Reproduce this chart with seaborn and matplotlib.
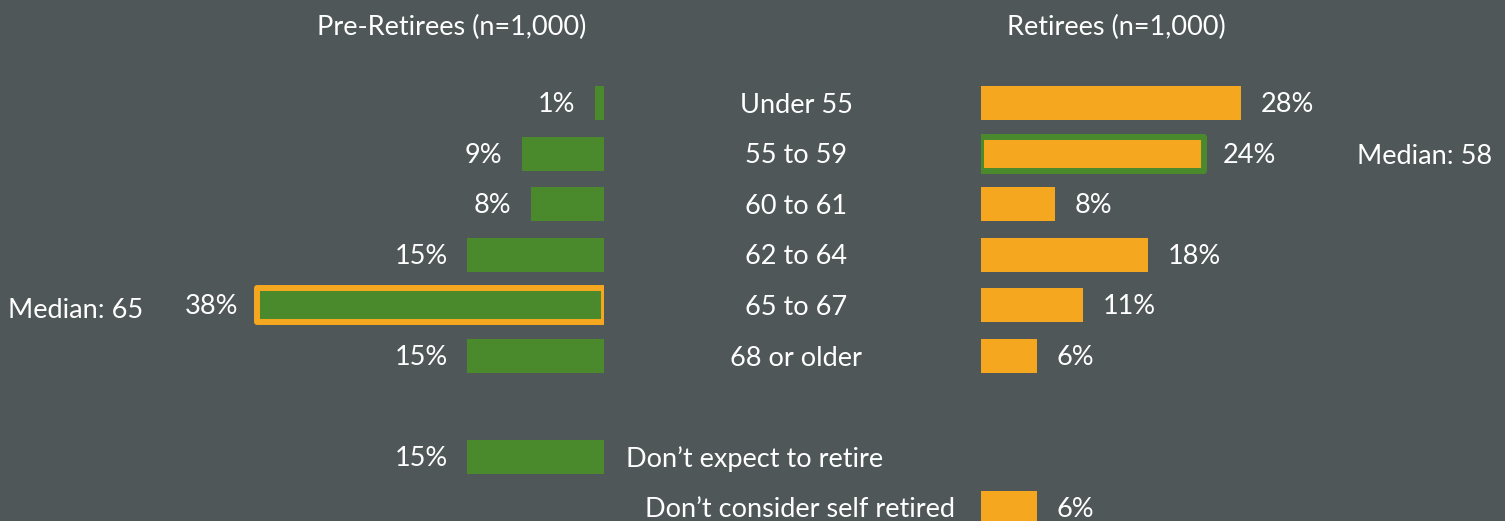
import pandas as pd
import matplotlib.pyplot as plt
import matplotlib.transforms as mtransforms
import seaborn as sns

# rows, top to bottom; the blank slot is the gap before the non-age answers
rows = ['Under 55', '55 to 59', '60 to 61', '62 to 64', '65 to 67', '68 or older',
        '', 'Don\u2019t expect to retire', 'Don\u2019t consider self retired']

pre_cats = ['Under 55', '55 to 59', '60 to 61', '62 to 64', '65 to 67', '68 or older',
            'Don\u2019t expect to retire']
pre_vals = [1, 9, 8, 15, 38, 15, 15]

ret_cats = ['Under 55', '55 to 59', '60 to 61', '62 to 64', '65 to 67', '68 or older',
            'Don\u2019t consider self retired']
ret_vals = [28, 24, 8, 18, 11, 6, 6]

pre_median = ('Median: 65', '65 to 67')
ret_median = ('Median: 58', '55 to 59')

BG = '#4f5759'
GREEN = '#4a8a2c'
ORANGE = '#f5a81f'

sns.set_style('dark')
plt.rcParams['font.family'] = ['Lato', 'DejaVu Sans']

pre = pd.DataFrame({'cat': pre_cats, 'pct': pre_vals})
ret = pd.DataFrame({'cat': ret_cats, 'pct': ret_vals})

fig = plt.figure(figsize=(15.05, 5.21), dpi=100, facecolor=BG)
W, H = 1505, 521
row_px, row0 = 50.6, 103
ylim = ((H - row0) / row_px, -row0 / row_px)

ax_l = fig.add_axes([0, 0, 604 / W, 1])
ax_r = fig.add_axes([981 / W, 0, 524 / W, 1])

sns.barplot(data=pre, x='pct', y='cat', order=rows, orient='h', color=GREEN,
            width=0.67, saturation=1, linewidth=0, ax=ax_l)
sns.barplot(data=ret, x='pct', y='cat', order=rows, orient='h', color=ORANGE,
            width=0.67, saturation=1, linewidth=0, ax=ax_r)

ax_l.set_xlim(604 / 9.12, 0)
ax_r.set_xlim(0, 524 / 9.28)

for ax in (ax_l, ax_r):
    ax.set_ylim(*ylim)
    ax.set_facecolor(BG)
    ax.set_axis_off()

# outline the median bar in the other group's colour
def outline(ax, row, col):
    for p in ax.patches:
        if round(p.get_y() + p.get_height() / 2) == rows.index(row):
            p.set_edgecolor(col)
            p.set_linewidth(4.3)
            p.set_joinstyle('round')

outline(ax_l, pre_median[1], ORANGE)
outline(ax_r, ret_median[1], GREEN)

fs = 19.5
txt = dict(color='white', fontsize=fs, va='center')
for c, v in zip(pre_cats, pre_vals):
    ax_l.annotate(f'{v}%', (v, rows.index(c) + 0.03), xytext=(-14, 0), textcoords='offset points',
                  ha='right', **txt)
for c, v in zip(ret_cats, ret_vals):
    ax_r.annotate(f'{v}%', (v, rows.index(c) + 0.03), xytext=(14, 0), textcoords='offset points',
                  ha='left', **txt)

# category labels in the middle column
tr = mtransforms.blended_transform_factory(fig.transFigure, ax_l.transData)
for i, c in enumerate(rows[:6]):
    fig.text(796 / W, i + 0.04, c, ha='center', transform=tr, **txt)
fig.text(626 / W, 7.04, rows[7], ha='left', transform=tr, **txt)
fig.text(955 / W, 8.04, rows[8], ha='right', transform=tr, **txt)

fig.text(8 / W, rows.index(pre_median[1]) + 0.1, pre_median[0], ha='left', transform=tr, **txt)
fig.text(1357 / W, rows.index(ret_median[1]) + 0.05, ret_median[0], ha='left', transform=tr, **txt)

fig.text(452 / W, 1 - 27 / H, 'Pre-Retirees (n=1,000)', ha='center', color='white',
         fontsize=fs, va='center')
fig.text(1116 / W, 1 - 27 / H, 'Retirees (n=1,000)', ha='center', color='white',
         fontsize=fs, va='center')

fig.savefig('out.png', dpi=100, facecolor=BG)
